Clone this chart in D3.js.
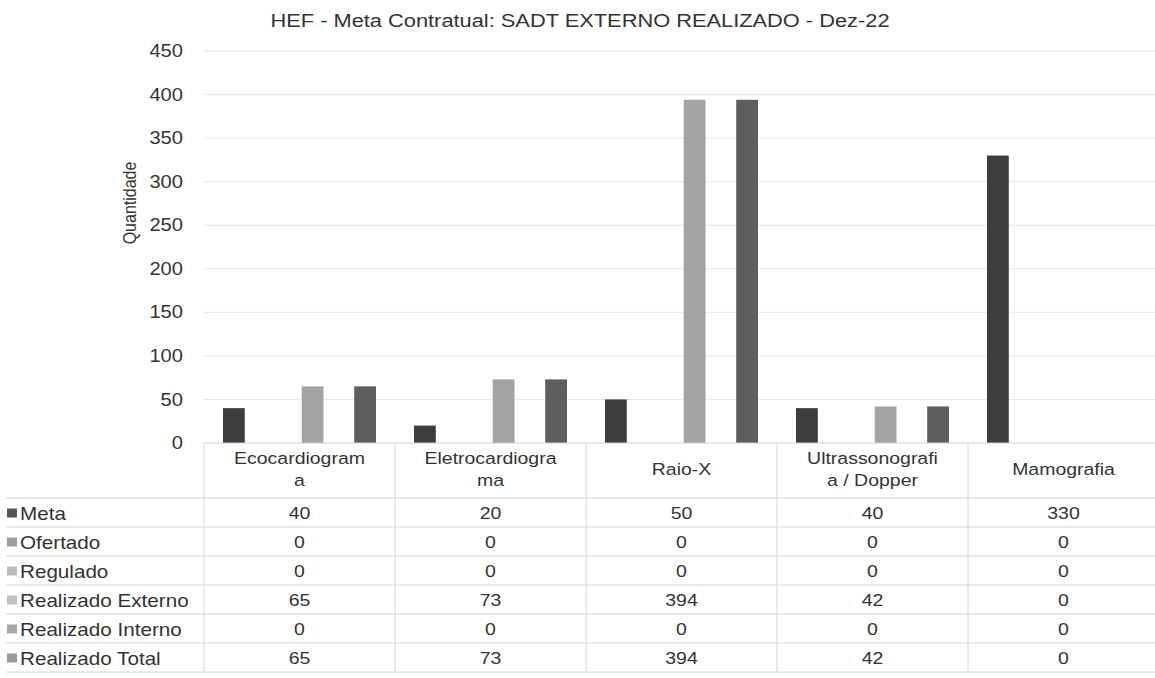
<!DOCTYPE html>
<html>
<head>
<meta charset="utf-8">
<script src="https://cdn.jsdelivr.net/npm/d3@7"></script>
<style>
	body { margin: 0; background: #fff; }
	svg text { font-family: "Liberation Sans", Arial, sans-serif; fill: #333; }
</style>
</head>
<body>
<svg id="chart" width="1155" height="678"></svg>
<script>
!(function(){
	"use strict";

	// dados do gráfico
	const categories = ['Ecocardiograma', 'Eletrocardiograma', 'Raio-X', 'Ultrassonografia / Dopper', 'Mamografia'];
	const categoryLabels = [['Ecocardiogram', 'a'], ['Eletrocardiogra', 'ma'], ['Raio-X'], ['Ultrassonografi', 'a / Dopper'], ['Mamografia']];
	const seriesNames = ['Meta', 'Ofertado', 'Regulado', 'Realizado Externo', 'Realizado Interno', 'Realizado Total'];
	const meta = [40, 20, 50, 40, 330];
	const ofertado = [0, 0, 0, 0, 0];
	const regulado = [0, 0, 0, 0, 0];
	const realizadoExterno = [65, 73, 394, 42, 0];
	const realizadoInterno = [0, 0, 0, 0, 0];
	const realizadoTotal = [65, 73, 394, 42, 0];
	const yTicks = [0, 50, 100, 150, 200, 250, 300, 350, 400, 450];
	const seriesColors = ['#3d3d3d', '#8c8c8c', '#b8b8b8', '#a3a3a3', '#9a9a9a', '#5e5e5e'];
	const keyColors = ['#555', '#9c9c9c', '#bdbdbd', '#c2c2c2', '#a8a8a8', '#9a9a9a'];

	const seriesValues = [meta, ofertado, regulado, realizadoExterno, realizadoInterno, realizadoTotal];

	let svg = d3.select('#chart'),
		left = 204, right = 1159, top = 51, bottom = 443,
		headerBottom = 498, rowH = 29,
		sx = 1.18;		// o scan é esticado na horizontal

	let x0 = d3.scaleBand().domain(categories).range([left, right]).padding(0),
		x1 = d3.scaleBand().domain(seriesNames).range([19, x0.bandwidth() - 19]).paddingInner(0.17),
		y = d3.scaleLinear().domain([0, 450]).range([bottom, top]);

	let label = (parent, x, yy, txt, size, anchor) => {
		return parent.append('text')
			.attr('transform', 'translate(' + x + ',' + yy + ') scale(' + sx + ',1)')
			.attr('dy', '0.35em')
			.attr('text-anchor', anchor || 'middle')
			.attr('font-size', size)
			.text(txt);
	};

	// título
	label(svg, 580, 21, 'HEF - Meta Contratual: SADT EXTERNO REALIZADO - Dez-22', 18.5);

	// grade
	svg.append('g')
		.selectAll('line')
		.data(yTicks.slice(1))
		.enter().append('line')
		.attr('x1', left).attr('x2', right)
		.attr('y1', d => y(d)).attr('y2', d => y(d))
		.attr('stroke', '#e8e8e8').attr('stroke-width', 1);

	// eixo y
	let yAxis = svg.append('g')
		.attr('transform', 'translate(' + (left - 21) + ',0)')
		.call(d3.axisLeft(y).tickValues(yTicks).tickSize(0).tickPadding(0));
	yAxis.select('.domain').remove();
	yAxis.selectAll('text')
		.attr('x', 0)
		.attr('transform', 'scale(1.15,1)')
		.attr('font-size', 17.5)
		.style('font-family', '"Liberation Sans", Arial, sans-serif')
		.attr('fill', '#333');

	svg.append('text')
		.attr('transform', 'translate(136,203) rotate(-90) scale(1,1.1)')
		.attr('text-anchor', 'middle')
		.attr('font-size', 16)
		.text('Quantidade');

	// barras
	let groups = svg.append('g')
		.selectAll('g')
		.data(categories)
		.enter().append('g')
		.attr('transform', d => 'translate(' + x0(d) + ',0)');

	groups.selectAll('rect')
		.data((d, ci) => seriesNames.map((s, si) => ({ s: s, si: si, v: seriesValues[si][ci] })))
		.enter().append('rect')
		.attr('x', d => x1(d.s))
		.attr('width', x1.bandwidth())
		.attr('y', d => y(d.v))
		.attr('height', d => y(0) - y(d.v))
		.attr('fill', d => seriesColors[d.si]);

	// tabela de dados
	let table = svg.append('g'),
		lineColor = '#d6d6d6';

	table.append('line')
		.attr('x1', left).attr('x2', right)
		.attr('y1', bottom).attr('y2', bottom)
		.attr('stroke', '#cfcfcf');

	d3.range(seriesNames.length + 1).forEach(i => {
		table.append('line')
			.attr('x1', 6).attr('x2', right)
			.attr('y1', headerBottom + i * rowH).attr('y2', headerBottom + i * rowH)
			.attr('stroke', lineColor);
	});

	categories.concat(['_end']).forEach((c, i) => {
		let xx = i < categories.length ? x0(c) : right;
		table.append('line')
			.attr('x1', xx).attr('x2', xx)
			.attr('y1', bottom).attr('y2', headerBottom + seriesNames.length * rowH)
			.attr('stroke', lineColor);
	});

	categories.forEach((c, i) => {
		let lines = categoryLabels[i],
			cx = x0(c) + x0.bandwidth() / 2,
			cy = (bottom + headerBottom) / 2 - 1 - (lines.length - 1) * 11;
		lines.forEach((ln, li) => {
			label(table, cx, cy + li * 22, ln, 16.5);
		});
	});

	seriesNames.forEach((s, si) => {
		let cy = headerBottom + si * rowH + rowH / 2 + 1;
		table.append('rect')
			.attr('x', 7).attr('y', cy - 5)
			.attr('width', 10).attr('height', 9)
			.attr('fill', keyColors[si]);
		label(table, 20, cy, s, 17.5, 'start');
		categories.forEach((c, ci) => {
			label(table, x0(c) + x0.bandwidth() / 2, cy, seriesValues[si][ci], 16.5);
		});
	});
}());
</script>
</body>
</html>
